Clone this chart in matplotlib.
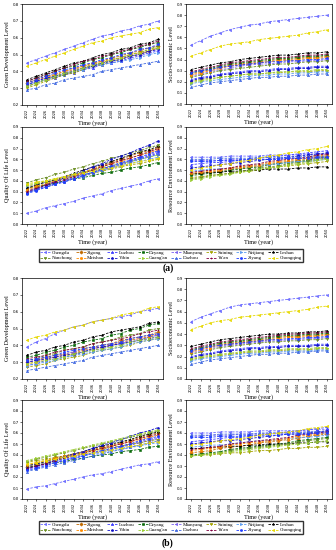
import matplotlib
matplotlib.use("Agg")
import matplotlib.pyplot as plt
from matplotlib.ticker import MultipleLocator, FormatStrFormatter

years = list(range(2022, 2051, 2))

cities = ["Chengdu", "Zigong", "Luzhou", "Deyang", "Mianyang", "Suining", "Neijiang", "Leshan",
          "Nanchong", "Meishan", "Yibin", "Guang'an", "Dazhou", "Ya'an", "Ziyang", "Chongqing"]
colors = ["#6b6bff", "#c06a00", "#3c3cff", "#0a6a0a", "#7b62f0", "#a4a400", "#5a9cf0", "#000000",
          "#6b8e23", "#ff8c00", "#1010c8", "#9acd32", "#4169e1", "#800040", "#1e3cff", "#e6d800"]
markers = ["<", "D", "^", "s", "<", "v", ">", "*", "v", "o", "p", ">", "^", "+", "h", "<"]

# ---- panel (a) ----
green_a = [
    [.45, .47, .49, .51, .53, .55, .57, .59, .61, .62, .64, .65, .67, .68, .70],
    [.33, .35, .37, .38, .40, .42, .43, .45, .46, .48, .49, .51, .52, .54, .55],
    [.31, .33, .35, .36, .38, .39, .41, .42, .44, .45, .46, .48, .49, .51, .52],
    [.34, .36, .38, .40, .42, .43, .45, .47, .48, .50, .51, .53, .54, .56, .57],
    [.32, .34, .36, .37, .39, .41, .42, .44, .45, .46, .48, .49, .50, .52, .53],
    [.30, .32, .34, .36, .38, .39, .41, .43, .44, .46, .47, .49, .50, .52, .54],
    [.32, .34, .35, .37, .38, .40, .41, .43, .44, .45, .46, .47, .48, .50, .51],
    [.35, .37, .39, .41, .43, .45, .46, .48, .50, .51, .53, .54, .56, .57, .59],
    [.31, .33, .35, .37, .38, .40, .42, .43, .45, .47, .48, .50, .51, .53, .55],
    [.33, .35, .36, .38, .40, .41, .43, .44, .46, .47, .48, .50, .51, .52, .54],
    [.32, .34, .36, .37, .39, .40, .42, .43, .45, .46, .47, .49, .50, .52, .53],
    [.31, .33, .35, .37, .39, .40, .42, .44, .45, .47, .48, .50, .51, .53, .54],
    [.29, .30, .32, .33, .35, .36, .37, .38, .40, .41, .42, .43, .44, .45, .46],
    [.34, .36, .38, .40, .42, .44, .46, .47, .49, .50, .52, .53, .55, .56, .58],
    [.33, .35, .37, .39, .41, .42, .44, .45, .47, .48, .50, .51, .53, .54, .56],
    [.43, .45, .47, .49, .51, .53, .55, .57, .58, .60, .61, .62, .63, .65, .66],
]
socio_a = [
    [.53, .57, .61, .64, .67, .69, .71, .72, .74, .75, .76, .77, .78, .79, .80],
    [.27, .29, .31, .33, .35, .36, .37, .38, .39, .40, .40, .41, .42, .42, .43],
    [.22, .24, .25, .27, .28, .29, .30, .30, .31, .32, .32, .33, .33, .34, .34],
    [.28, .30, .32, .34, .36, .37, .38, .39, .40, .41, .41, .42, .43, .43, .44],
    [.25, .27, .29, .31, .32, .34, .35, .36, .36, .37, .38, .38, .39, .39, .40],
    [.20, .22, .23, .24, .25, .26, .27, .27, .28, .28, .29, .29, .29, .30, .30],
    [.18, .20, .21, .22, .23, .24, .25, .26, .26, .27, .27, .28, .28, .29, .29],
    [.31, .33, .35, .37, .38, .40, .41, .42, .43, .44, .44, .45, .46, .46, .47],
    [.24, .26, .28, .30, .31, .32, .33, .34, .35, .36, .36, .37, .38, .38, .39],
    [.26, .28, .30, .32, .34, .35, .36, .37, .38, .39, .39, .40, .41, .41, .42],
    [.21, .23, .24, .26, .27, .28, .29, .29, .30, .31, .31, .32, .32, .33, .33],
    [.19, .21, .22, .24, .25, .26, .27, .27, .28, .29, .29, .30, .30, .31, .31],
    [.15, .17, .19, .20, .21, .22, .23, .24, .24, .25, .25, .26, .26, .27, .27],
    [.29, .31, .33, .35, .37, .38, .39, .40, .41, .42, .42, .43, .44, .44, .45],
    [.28, .30, .31, .33, .34, .35, .36, .37, .38, .38, .39, .39, .40, .40, .41],
    [.43, .46, .49, .52, .54, .55, .56, .58, .59, .60, .61, .62, .64, .65, .67],
]
life_a = [
    [.10, .12, .15, .17, .19, .21, .24, .26, .28, .31, .33, .35, .37, .40, .42],
    [.31, .34, .37, .40, .43, .45, .48, .51, .54, .57, .60, .63, .66, .68, .71],
    [.30, .33, .35, .38, .40, .43, .45, .48, .51, .53, .56, .58, .61, .63, .66],
    [.33, .35, .36, .38, .40, .42, .43, .45, .47, .48, .50, .52, .53, .55, .57],
    [.29, .32, .34, .37, .40, .43, .45, .48, .51, .53, .56, .59, .62, .64, .67],
    [.35, .37, .39, .40, .42, .44, .46, .47, .49, .51, .53, .55, .56, .58, .60],
    [.34, .36, .38, .40, .42, .44, .46, .48, .50, .52, .54, .56, .58, .60, .62],
    [.33, .36, .39, .41, .44, .47, .50, .53, .55, .58, .61, .64, .67, .69, .72],
    [.38, .41, .43, .46, .48, .51, .53, .56, .58, .61, .63, .66, .68, .71, .73],
    [.32, .35, .37, .40, .43, .45, .48, .51, .53, .56, .58, .61, .64, .66, .69],
    [.29, .32, .36, .39, .43, .46, .49, .53, .56, .60, .63, .66, .70, .73, .77],
    [.36, .38, .40, .42, .44, .46, .48, .50, .52, .54, .56, .58, .60, .62, .64],
    [.29, .32, .34, .37, .39, .42, .44, .47, .50, .52, .55, .57, .60, .62, .65],
    [.30, .33, .36, .39, .41, .44, .47, .50, .53, .56, .59, .61, .64, .67, .70],
    [.28, .31, .34, .37, .39, .42, .45, .48, .51, .54, .57, .59, .62, .65, .68],
    [.37, .39, .40, .42, .44, .46, .47, .49, .51, .52, .54, .56, .58, .59, .61],
]
resource_a = [
    [.62, .62, .62, .62, .63, .63, .63, .63, .64, .64, .64, .64, .65, .65, .65],
    [.46, .47, .48, .49, .51, .52, .53, .54, .56, .57, .58, .59, .60, .62, .63],
    [.55, .56, .57, .57, .58, .59, .60, .61, .62, .63, .64, .65, .66, .67, .68],
    [.45, .46, .47, .48, .50, .51, .52, .53, .55, .56, .57, .58, .59, .61, .62],
    [.59, .59, .59, .59, .60, .60, .60, .60, .60, .60, .61, .61, .61, .61, .61],
    [.43, .44, .45, .46, .47, .48, .49, .50, .52, .53, .54, .55, .56, .57, .58],
    [.49, .50, .51, .51, .52, .53, .54, .55, .55, .56, .57, .58, .58, .59, .60],
    [.47, .47, .48, .48, .49, .49, .50, .50, .51, .51, .51, .52, .52, .53, .53],
    [.42, .43, .45, .46, .47, .49, .50, .52, .53, .54, .56, .57, .58, .60, .61],
    [.47, .48, .49, .50, .52, .53, .54, .55, .57, .58, .59, .60, .61, .63, .64],
    [.52, .53, .54, .55, .56, .57, .58, .59, .60, .61, .62, .63, .64, .65, .66],
    [.41, .42, .44, .45, .46, .48, .49, .51, .52, .53, .55, .56, .57, .59, .60],
    [.60, .60, .60, .61, .61, .61, .61, .62, .62, .62, .62, .62, .63, .63, .63],
    [.48, .49, .50, .51, .52, .54, .55, .56, .58, .59, .60, .61, .62, .64, .65],
    [.58, .58, .58, .59, .59, .59, .60, .60, .60, .60, .61, .61, .61, .62, .62],
    [.50, .52, .53, .55, .56, .58, .59, .61, .63, .64, .66, .67, .69, .70, .72],
]

# ---- panel (b) ----
green_b = [
    [.39, .42, .44, .47, .49, .51, .52, .54, .55, .56, .57, .58, .60, .61, .62],
    [.30, .31, .33, .34, .35, .36, .38, .39, .40, .41, .43, .44, .45, .46, .48],
    [.28, .29, .31, .32, .33, .34, .36, .37, .38, .40, .41, .42, .43, .45, .46],
    [.33, .34, .36, .37, .39, .40, .42, .43, .44, .46, .47, .49, .50, .52, .53],
    [.30, .31, .32, .33, .35, .36, .37, .38, .39, .40, .41, .43, .44, .45, .46],
    [.27, .28, .29, .31, .32, .33, .34, .36, .37, .38, .39, .40, .42, .43, .44],
    [.28, .29, .30, .31, .33, .34, .35, .36, .37, .38, .39, .41, .42, .43, .44],
    [.34, .36, .37, .39, .40, .42, .43, .45, .46, .48, .49, .50, .51, .53, .54],
    [.31, .32, .34, .35, .37, .38, .39, .41, .42, .43, .45, .46, .47, .49, .50],
    [.29, .30, .32, .33, .34, .35, .37, .38, .39, .40, .42, .43, .44, .45, .47],
    [.30, .31, .32, .33, .34, .35, .36, .38, .39, .40, .41, .42, .43, .44, .45],
    [.29, .30, .31, .32, .33, .35, .36, .37, .38, .39, .40, .42, .43, .44, .45],
    [.25, .26, .27, .28, .29, .30, .31, .33, .34, .35, .36, .37, .38, .39, .40],
    [.32, .33, .34, .36, .37, .38, .39, .41, .42, .43, .44, .45, .47, .48, .49],
    [.31, .32, .33, .34, .36, .37, .38, .39, .40, .41, .42, .44, .45, .46, .47],
    [.43, .45, .46, .48, .49, .51, .52, .54, .55, .56, .58, .59, .60, .62, .63],
]
socio_b = [
    [.51, .55, .58, .61, .64, .66, .67, .68, .69, .70, .71, .72, .73, .74, .75],
    [.25, .27, .29, .31, .32, .33, .34, .35, .36, .37, .38, .38, .39, .39, .40],
    [.20, .22, .23, .25, .26, .27, .28, .28, .29, .29, .30, .30, .30, .31, .31],
    [.26, .28, .30, .32, .33, .34, .35, .36, .37, .38, .39, .39, .40, .40, .41],
    [.23, .25, .27, .29, .30, .31, .32, .33, .34, .34, .35, .35, .36, .36, .37],
    [.17, .19, .20, .21, .22, .23, .24, .24, .25, .25, .26, .26, .26, .27, .27],
    [.16, .18, .19, .20, .21, .22, .23, .23, .24, .24, .25, .25, .25, .26, .26],
    [.29, .31, .33, .35, .36, .37, .38, .39, .40, .40, .41, .41, .42, .42, .43],
    [.22, .24, .26, .28, .29, .30, .31, .32, .33, .33, .34, .34, .35, .35, .36],
    [.24, .26, .28, .30, .31, .32, .33, .34, .35, .36, .37, .37, .38, .38, .39],
    [.19, .21, .22, .24, .25, .26, .27, .27, .28, .28, .29, .29, .29, .30, .30],
    [.18, .20, .21, .22, .23, .24, .25, .25, .26, .26, .27, .27, .27, .28, .28],
    [.13, .15, .17, .18, .19, .20, .21, .22, .22, .23, .23, .24, .24, .25, .25],
    [.27, .29, .31, .33, .34, .35, .36, .37, .38, .39, .40, .40, .41, .41, .42],
    [.25, .27, .29, .30, .31, .32, .33, .34, .35, .35, .36, .36, .37, .37, .38],
    [.44, .47, .50, .52, .53, .55, .56, .57, .58, .59, .60, .61, .62, .64, .65],
]
life_b = [
    [.09, .11, .12, .14, .16, .18, .20, .22, .23, .25, .27, .29, .31, .32, .34],
    [.29, .31, .33, .36, .38, .40, .42, .45, .47, .49, .51, .53, .56, .58, .60],
    [.28, .30, .32, .34, .36, .38, .40, .41, .43, .45, .47, .49, .51, .53, .55],
    [.29, .30, .32, .33, .34, .36, .37, .39, .40, .41, .43, .44, .45, .47, .48],
    [.27, .29, .31, .33, .35, .37, .39, .42, .44, .46, .48, .50, .52, .54, .56],
    [.33, .35, .36, .38, .39, .41, .42, .44, .45, .47, .48, .50, .51, .53, .54],
    [.30, .32, .33, .35, .36, .38, .39, .41, .42, .44, .45, .47, .48, .50, .51],
    [.30, .32, .34, .37, .39, .41, .43, .46, .48, .50, .52, .54, .57, .59, .61],
    [.34, .36, .38, .40, .42, .44, .46, .48, .50, .52, .54, .56, .58, .60, .62],
    [.31, .33, .35, .37, .39, .41, .43, .44, .46, .48, .50, .52, .54, .56, .58],
    [.27, .30, .32, .35, .38, .41, .43, .46, .49, .51, .54, .57, .60, .62, .65],
    [.35, .37, .39, .41, .43, .45, .47, .49, .51, .53, .55, .57, .59, .61, .63],
    [.25, .27, .29, .31, .33, .35, .37, .39, .41, .43, .45, .47, .49, .51, .53],
    [.28, .30, .32, .35, .37, .39, .41, .44, .46, .48, .50, .52, .55, .57, .59],
    [.26, .28, .30, .33, .35, .37, .39, .42, .44, .46, .48, .50, .53, .55, .57],
    [.32, .33, .35, .36, .38, .39, .41, .42, .43, .45, .46, .48, .49, .51, .52],
]
resource_b = [
    [.60, .60, .60, .61, .61, .61, .61, .62, .62, .62, .62, .62, .63, .63, .63],
    [.42, .43, .44, .46, .47, .48, .49, .51, .52, .53, .54, .55, .57, .58, .59],
    [.52, .53, .54, .55, .56, .56, .57, .58, .59, .60, .61, .62, .63, .64, .65],
    [.40, .41, .42, .43, .45, .46, .47, .48, .49, .50, .51, .53, .54, .55, .56],
    [.57, .57, .58, .58, .58, .59, .59, .59, .60, .60, .60, .61, .61, .61, .62],
    [.39, .40, .40, .41, .42, .42, .43, .44, .44, .45, .46, .46, .47, .47, .48],
    [.47, .48, .49, .49, .50, .51, .52, .53, .53, .54, .55, .56, .56, .57, .58],
    [.46, .46, .47, .47, .48, .48, .49, .49, .50, .50, .50, .51, .51, .52, .52],
    [.39, .40, .41, .42, .44, .45, .46, .47, .48, .49, .50, .52, .53, .54, .55],
    [.44, .45, .46, .47, .49, .50, .51, .52, .53, .54, .55, .57, .58, .59, .60],
    [.50, .51, .52, .53, .53, .54, .55, .56, .57, .58, .59, .59, .60, .61, .62],
    [.39, .40, .41, .42, .43, .44, .45, .46, .47, .48, .49, .50, .51, .52, .53],
    [.58, .58, .58, .59, .59, .59, .59, .60, .60, .60, .60, .60, .61, .61, .61],
    [.45, .46, .47, .48, .50, .51, .52, .53, .54, .55, .56, .58, .59, .60, .61],
    [.56, .56, .56, .57, .57, .57, .58, .58, .58, .58, .59, .59, .59, .60, .60],
    [.49, .50, .51, .53, .54, .55, .56, .58, .59, .60, .61, .62, .64, .65, .66],
]

plt.rcParams['font.family'] = ['Liberation Serif', 'DejaVu Serif']

fig = plt.figure(figsize=(3.36, 5.5), dpi=100)

W, H = 336, 550


def px_axes(x0, y0, x1, y1):
    # axes from pixel box (top-left origin)
    return fig.add_axes([x0 / W, 1 - y1 / H, (x1 - x0) / W, (y1 - y0) / H])


def draw(ax, data, ylabel, ylim):
    for i, city in enumerate(cities):
        ax.plot(years, data[i], ls='--', lw=0.6, color=colors[i], marker=markers[i],
                ms=1.7, mew=0.4, label=city, dashes=(3, 1.5))
    ax.set_xlim(2021, 2051)
    ax.set_ylim(*ylim)
    ax.set_xticks(years)
    ax.set_xticklabels([str(y) for y in years], rotation=90, fontsize=2.6,
                       family=['DejaVu Sans'])
    ax.yaxis.set_major_locator(MultipleLocator(0.1))
    ax.yaxis.set_major_formatter(FormatStrFormatter('%.1f'))
    for lab in ax.get_yticklabels():
        lab.set_fontsize(2.8)
        lab.set_family(['DejaVu Sans'])
    ax.tick_params(length=1.5, width=0.4, pad=1)
    for s in ax.spines.values():
        s.set_linewidth(0.5)
    ax.set_ylabel(ylabel, fontsize=4.4, labelpad=1.5)
    ax.set_xlabel("Time (year)", fontsize=4.4, labelpad=1.5)


panels = [
    # (a)
    ((22, 4, 163, 105), green_a, "Green Development Level", (0.2, 0.8)),
    ((186, 4, 332, 104), socio_a, "Socio-economic Level", (0.0, 0.9)),
    ((22, 127, 163, 224), life_a, "Quality Of Life Level", (0.0, 0.9)),
    ((186, 127, 332, 224), resource_a, "Resource Environment Level", (0.0, 0.9)),
    # (b)
    ((22, 278, 163, 379), green_b, "Green Development Level", (0.2, 0.8)),
    ((186, 278, 332, 379), socio_b, "Socioeconomic Level", (0.0, 0.9)),
    ((22, 400, 163, 499), life_b, "Quality Of Life Level", (0.0, 0.9)),
    ((186, 400, 332, 499), resource_b, "Resource Environment Level", (0.0, 0.9)),
]

axes = []
for box, data, ylabel, ylim in panels:
    ax = px_axes(*box)
    draw(ax, data, ylabel, ylim)
    axes.append(ax)

# legend order: two rows of eight (matplotlib fills column by column)
order = []
for k in range(8):
    order += [k, k + 8]

for ax, ycen in [(axes[3], 255.5), (axes[7], 527.5)]:
    h, l = ax.get_legend_handles_labels()
    fig.legend([h[i] for i in order], [l[i] for i in order], ncol=8,
               loc='center', bbox_to_anchor=(171 / W, 1 - ycen / H),
               fontsize=3.6, frameon=True, fancybox=False, edgecolor='black',
               handlelength=2.0, handletextpad=0.3, columnspacing=0.6,
               labelspacing=0.15, borderpad=0.25, borderaxespad=0)

fig.text(168 / W, 1 - 268 / H, "(a)", fontsize=7, fontweight='bold', ha='center', va='center')
fig.text(168 / W, 1 - 543 / H, "(b)", fontsize=7, fontweight='bold', ha='center', va='center')

fig.savefig("out.png", dpi=100)
